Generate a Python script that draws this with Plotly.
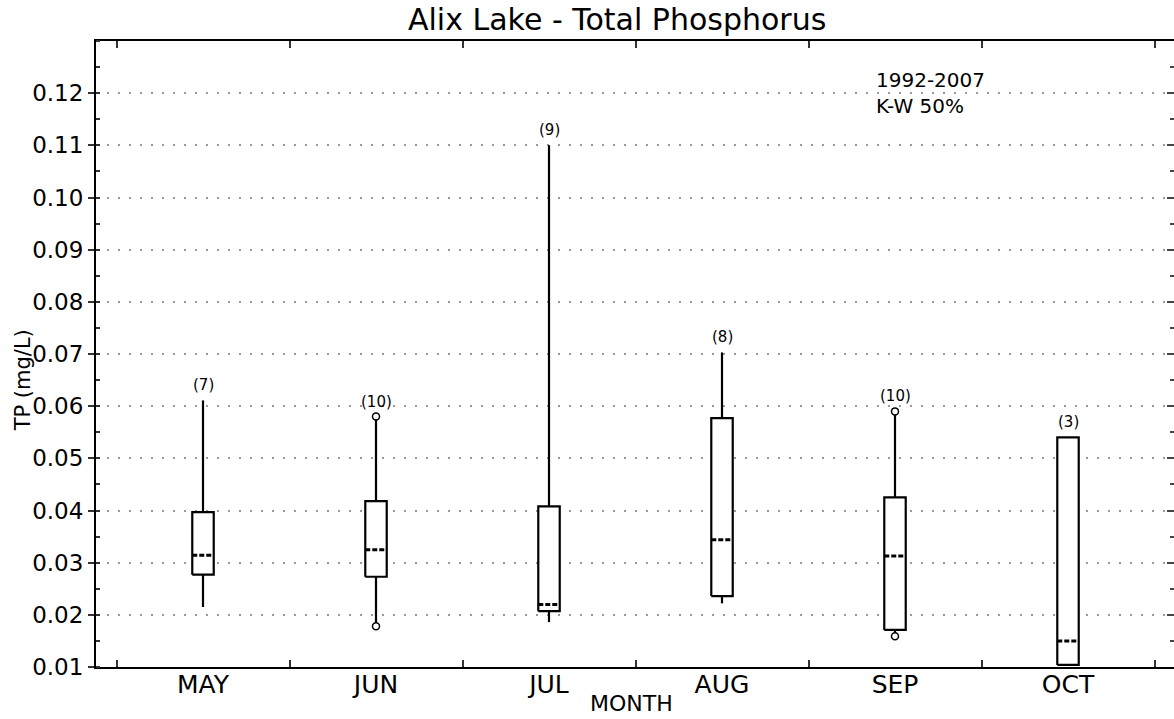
import plotly.graph_objects as go

# Monthly total phosphorus summaries (mg/L), Alix Lake 1992-2007
months = ["MAY", "JUN", "JUL", "AUG", "SEP", "OCT"]
tp_low = [0.0215, 0.0178, 0.0186, 0.0222, 0.0159, 0.0104]
tp_q1 = [0.0277, 0.0273, 0.0207, 0.0236, 0.0171, 0.0104]
tp_median = [0.0314, 0.0325, 0.0220, 0.0344, 0.0313, 0.0150]
tp_q3 = [0.0397, 0.0418, 0.0408, 0.0577, 0.0425, 0.0540]
tp_high = [0.0611, 0.0580, 0.1100, 0.0703, 0.0590, 0.0540]
sample_counts = [7, 10, 9, 8, 10, 3]

# Extreme values drawn as open circles
circle_months = ["JUN", "JUN", "SEP", "SEP"]
circle_values = [0.0580, 0.0178, 0.0590, 0.0159]

y_ticks = [0.01, 0.02, 0.03, 0.04, 0.05, 0.06, 0.07, 0.08, 0.09, 0.10, 0.11, 0.12]

FONT = "DejaVu Sans"
HALF = 0.062  # half box width in category units

pos = {m: i + 1 for i, m in enumerate(months)}
xs = [pos[m] for m in months]

fig = go.Figure()

# whiskers
wx, wy = [], []
for x, lo, q1, q3, hi in zip(xs, tp_low, tp_q1, tp_q3, tp_high):
    wx += [x, x, None, x, x, None]
    wy += [lo, q1, None, q3, hi, None]
fig.add_trace(go.Scatter(x=wx, y=wy, mode="lines",
                         line=dict(color="black", width=2.2), hoverinfo="skip"))

# boxes
for x, q1, q3 in zip(xs, tp_q1, tp_q3):
    fig.add_trace(go.Scatter(
        x=[x - HALF, x + HALF, x + HALF, x - HALF, x - HALF],
        y=[q1, q1, q3, q3, q1],
        mode="lines", fill="toself", fillcolor="white",
        line=dict(color="black", width=2.2), hoverinfo="skip"))

# medians (dashed)
mx, my = [], []
for x, m in zip(xs, tp_median):
    mx += [x - HALF, x + HALF * 0.8, None]
    my += [m, m, None]
fig.add_trace(go.Scatter(x=mx, y=my, mode="lines",
                         line=dict(color="black", width=3, dash="5px,2px"),
                         hoverinfo="skip"))

# extreme-value circles
fig.add_trace(go.Scatter(
    x=[pos[m] for m in circle_months], y=circle_values, mode="markers",
    marker=dict(symbol="circle", size=7, color="white",
                line=dict(color="black", width=1.5)),
    hoverinfo="skip"))

# sample counts above each month
for x, n, hi, q3, m in zip(xs, sample_counts, tp_high, tp_q3, months):
    top = max([hi, q3] + [v for cm, v in zip(circle_months, circle_values) if cm == m])
    fig.add_annotation(x=x, y=top, text=f"({n})", showarrow=False,
                       xref="x", yref="y", xanchor="center", yanchor="bottom",
                       yshift=4, font=dict(family=FONT, size=15, color="black"))

x_range = [0.3815, 6.6127]
y_range = [0.01, 0.13]
boundaries = [i + 0.5 for i in range(len(months) + 1)]

fig.update_layout(
    width=1174, height=719,
    margin=dict(l=96, r=0, t=41, b=52),
    paper_bgcolor="white", plot_bgcolor="white",
    showlegend=False,
    font=dict(family=FONT, color="black"),
    xaxis=dict(range=x_range, tickmode="array", tickvals=boundaries,
               showticklabels=False, ticks="inside", ticklen=7, tickwidth=1.5,
               tickcolor="#333", showline=True, linecolor="black", linewidth=2,
               mirror="ticks", showgrid=False, zeroline=False),
    xaxis2=dict(range=x_range, overlaying="x", side="bottom", anchor="y",
                tickmode="array", tickvals=xs, ticktext=months, ticks="",
                showline=False, showgrid=False, zeroline=False,
                tickfont=dict(family=FONT, size=25, color="black")),
    yaxis=dict(range=y_range, tickmode="array", tickvals=y_ticks,
               ticktext=[f"{v:.2f}" for v in y_ticks],
               ticks="outside", ticklen=6, tickwidth=1.5, tickcolor="#333",
               tickfont=dict(family=FONT, size=23, color="black"),
               showline=True, linecolor="black", linewidth=2,
               showgrid=True, gridcolor="#999", gridwidth=1.5, griddash="2px,9px",
               zeroline=False,
               minor=dict(dtick=0.005, tick0=0.005, ticks="inside", ticklen=4,
                          tickwidth=1.5, tickcolor="#333", showgrid=False)),
    yaxis2=dict(range=y_range, overlaying="y", side="right", anchor="x",
                tickmode="array", tickvals=y_ticks, showticklabels=False,
                ticks="inside", ticklen=7, tickwidth=1.5, tickcolor="#444",
                showline=False, showgrid=False, zeroline=False,
                minor=dict(dtick=0.005, tick0=0.005, ticks="inside", ticklen=4,
                           tickwidth=1.5, tickcolor="#444", showgrid=False)),
)

# a dummy trace keeps the secondary axes active
fig.add_trace(go.Scatter(x=[None], y=[None], xaxis="x2", yaxis="y2",
                         hoverinfo="skip"))

fig.add_annotation(text="Alix Lake - Total Phosphorus", xref="paper", yref="paper",
                   x=0.4833, y=1.0, xanchor="center", yanchor="bottom", yshift=2,
                   showarrow=False,
                   font=dict(family=FONT, size=30, color="black"))
fig.add_annotation(text="MONTH", xref="paper", yref="paper",
                   x=0.497, y=-0.0585, xanchor="center", yanchor="middle",
                   showarrow=False,
                   font=dict(family=FONT, size=22, color="black"))
fig.add_annotation(text="TP (mg/L)", xref="paper", yref="paper",
                   x=-0.0677, y=0.458, xanchor="center", yanchor="middle",
                   textangle=-90, showarrow=False,
                   font=dict(family=FONT, size=21, color="black"))
fig.add_annotation(text="1992-2007<br>K-W 50%", xref="paper", yref="paper",
                   x=0.7217, y=0.9165, xanchor="left", yanchor="middle",
                   align="left", showarrow=False,
                   font=dict(family=FONT, size=20, color="black"))

fig.write_html("out.html")
